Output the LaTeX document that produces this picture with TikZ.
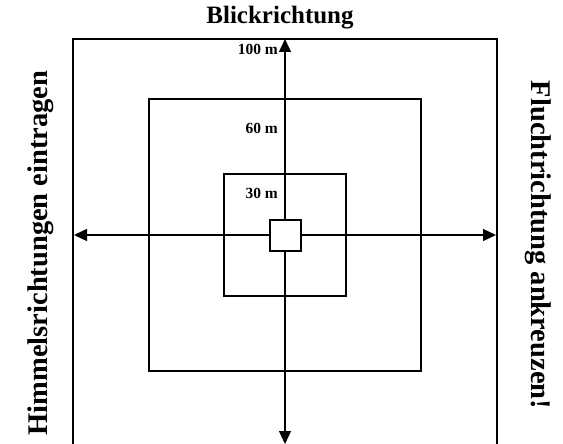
\documentclass[tikz,border=0pt]{standalone}
\usepackage{fontspec}
\setmainfont{Liberation Serif}
\usetikzlibrary{arrows.meta}
\begin{document}
\begin{tikzpicture}[x=1pt,y=-1pt,
  sq/.style={draw,line width=2pt,inner sep=0pt,minimum size=#1,anchor=center},
  arr/.style={line width=1.3pt,-{Triangle[length=13pt,width=12pt]}},
  lab/.style={font=\bfseries\fontsize{15.5}{18}\selectfont,anchor=east,inner sep=0pt},
  side/.style={font=\bfseries\fontsize{28.5}{32}\selectfont,inner sep=0pt},
  head/.style={font=\bfseries\fontsize{25}{30}\selectfont,inner sep=0pt}]
\useasboundingbox (0,0) rectangle (563,444);
\clip (0,0) rectangle (563,444);
\coordinate (c) at (285,235);
\draw[line width=2pt] (73,470) -- (73,39) -- (497,39) -- (497,470);
\node[sq=272pt] (mid) at (c) {};
\node[sq=122pt] (inner) at (c) {};
\node[sq=31pt,fill=white] (core) at (c) {};
\coordinate (tp) at (285,39);
\coordinate (bt) at (285,444);
\coordinate (lt) at (74,235);
\coordinate (rt) at (496,235);
\draw[arr] (core.north) -- (tp);
\draw[arr] (core.south) -- (bt);
\draw[arr] (core.west) -- (lt);
\draw[arr] (core.east) -- (rt);
\node[lab] (l100) at (278,49) {100 m};
\node[lab] (l60) at (278,128) {60 m};
\node[lab] (l30) at (278,193) {30 m};
\node[head] (title) at (280,18) {Blickrichtung};
\node[side,rotate=90] (west) at (41,253) {Himmelsrichtungen eintragen};
\node[side,rotate=-90] (east) at (538,245) {Fluchtrichtung ankreuzen!};
\end{tikzpicture}
\end{document}
